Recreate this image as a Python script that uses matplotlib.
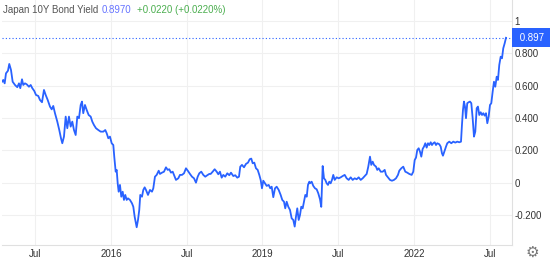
import matplotlib.pyplot as plt
import matplotlib.transforms as mtransforms

# decimal years and yields (%)
years = [
    2013.842, 2013.867, 2013.895, 2013.921, 2013.960, 2013.986, 2014.020, 2014.053, 2014.099, 2014.145,
    2014.178, 2014.204, 2014.238, 2014.263, 2014.297, 2014.331, 2014.376, 2014.410, 2014.442, 2014.481,
    2014.515, 2014.560, 2014.594, 2014.634, 2014.673, 2014.707, 2014.747, 2014.792, 2014.826, 2014.857,
    2014.891, 2014.937, 2014.976, 2015.010, 2015.036, 2015.069, 2015.103, 2015.135, 2015.168, 2015.202,
    2015.234, 2015.267, 2015.301, 2015.333, 2015.366, 2015.400, 2015.426, 2015.451, 2015.485, 2015.519,
    2015.558, 2015.598, 2015.630, 2015.663, 2015.703, 2015.749, 2015.796, 2015.848, 2015.887, 2015.915,
    2015.947, 2015.980, 2016.014, 2016.046, 2016.065, 2016.093, 2016.113, 2016.133, 2016.152, 2016.178,
    2016.204, 2016.232, 2016.257, 2016.283, 2016.311, 2016.337, 2016.376, 2016.416, 2016.442, 2016.469,
    2016.509, 2016.535, 2016.560, 2016.580, 2016.614, 2016.640, 2016.667, 2016.693, 2016.733, 2016.772,
    2016.812, 2016.838, 2016.871, 2016.905, 2016.945, 2016.970, 2017.010, 2017.050, 2017.089, 2017.123,
    2017.154, 2017.188, 2017.222, 2017.248, 2017.287, 2017.333, 2017.366, 2017.406, 2017.446, 2017.485,
    2017.525, 2017.564, 2017.604, 2017.644, 2017.683, 2017.717, 2017.749, 2017.788, 2017.828, 2017.867,
    2017.907, 2017.947, 2017.974, 2018.014, 2018.053, 2018.093, 2018.125, 2018.158, 2018.192, 2018.224,
    2018.263, 2018.303, 2018.343, 2018.376, 2018.422, 2018.461, 2018.501, 2018.535, 2018.560, 2018.594,
    2018.634, 2018.673, 2018.713, 2018.747, 2018.778, 2018.806, 2018.838, 2018.871, 2018.905, 2018.937,
    2018.964, 2018.990, 2019.016, 2019.050, 2019.083, 2019.123, 2019.154, 2019.182, 2019.214, 2019.248,
    2019.281, 2019.321, 2019.360, 2019.392, 2019.426, 2019.451, 2019.479, 2019.511, 2019.545, 2019.578,
    2019.610, 2019.638, 2019.663, 2019.689, 2019.717, 2019.743, 2019.768, 2019.796, 2019.822, 2019.848,
    2019.876, 2019.901, 2019.927, 2019.941, 2019.974, 2020.006, 2020.040, 2020.073, 2020.105, 2020.139,
    2020.164, 2020.192, 2020.218, 2020.244, 2020.271, 2020.297, 2020.323, 2020.350, 2020.376, 2020.402,
    2020.430, 2020.469, 2020.509, 2020.549, 2020.588, 2020.628, 2020.667, 2020.707, 2020.747, 2020.786,
    2020.826, 2020.865, 2020.905, 2020.945, 2020.984, 2021.024, 2021.063, 2021.095, 2021.129, 2021.154,
    2021.182, 2021.208, 2021.248, 2021.273, 2021.301, 2021.341, 2021.380, 2021.420, 2021.446, 2021.485,
    2021.525, 2021.564, 2021.604, 2021.644, 2021.683, 2021.709, 2021.749, 2021.788, 2021.828, 2021.867,
    2021.907, 2021.954, 2021.986, 2022.014, 2022.040, 2022.065, 2022.093, 2022.119, 2022.145, 2022.172,
    2022.198, 2022.224, 2022.251, 2022.277, 2022.303, 2022.331, 2022.356, 2022.382, 2022.410, 2022.436,
    2022.461, 2022.501, 2022.529, 2022.554, 2022.574, 2022.600, 2022.634, 2022.659, 2022.699, 2022.739,
    2022.778, 2022.818, 2022.857, 2022.897, 2022.931, 2022.950, 2022.970, 2022.990, 2023.010, 2023.030,
    2023.055, 2023.083, 2023.109, 2023.135, 2023.162, 2023.188, 2023.214, 2023.242, 2023.267, 2023.293,
    2023.321, 2023.347, 2023.372, 2023.400, 2023.426, 2023.452, 2023.479, 2023.505, 2023.531, 2023.558,
    2023.584, 2023.610, 2023.638, 2023.663, 2023.689, 2023.717, 2023.743, 2023.768, 2023.796, 2023.822,
]
yields = [
    0.625, 0.636, 0.615, 0.677, 0.693, 0.735, 0.698, 0.625, 0.605, 0.591,
    0.615, 0.585, 0.640, 0.605, 0.615, 0.609, 0.594, 0.605, 0.585, 0.568,
    0.543, 0.537, 0.512, 0.498, 0.574, 0.543, 0.512, 0.471, 0.454, 0.475,
    0.430, 0.378, 0.326, 0.275, 0.244, 0.285, 0.409, 0.337, 0.409, 0.347,
    0.378, 0.326, 0.295, 0.409, 0.399, 0.481, 0.502, 0.430, 0.481, 0.450,
    0.419, 0.409, 0.378, 0.357, 0.337, 0.326, 0.316, 0.316, 0.326, 0.306,
    0.275, 0.285, 0.244, 0.233, 0.161, 0.068, 0.079, -0.004, -0.056, -0.014,
    -0.087, -0.056, -0.107, -0.076, -0.107, -0.097, -0.107, -0.128, -0.149, -0.211,
    -0.276, -0.231, -0.169, -0.076, -0.087, -0.045, -0.029, -0.045, -0.076, -0.045,
    -0.056, -0.035, 0.037, 0.048, 0.074, 0.054, 0.062, 0.068, 0.095, 0.079,
    0.083, 0.062, 0.068, 0.048, 0.017, 0.027, 0.048, 0.048, 0.058, 0.089,
    0.072, 0.054, 0.037, 0.027, 0.000, 0.037, 0.058, 0.068, 0.048, 0.037,
    0.046, 0.054, 0.054, 0.068, 0.083, 0.068, 0.052, 0.068, 0.031, 0.048,
    0.037, 0.058, 0.046, 0.062, 0.041, 0.046, 0.031, 0.037, 0.099, 0.110,
    0.095, 0.116, 0.124, 0.145, 0.149, 0.120, 0.124, 0.089, 0.079, 0.048,
    0.017, -0.035, 0.012, -0.004, -0.020, -0.014, -0.035, -0.025, -0.090, -0.035,
    -0.025, -0.045, -0.076, -0.107, -0.118, -0.159, -0.118, -0.149, -0.169, -0.221,
    -0.231, -0.272, -0.211, -0.159, -0.231, -0.200, -0.149, -0.159, -0.118, -0.076,
    -0.087, -0.014, 0.006, -0.004, 0.006, -0.020, -0.035, -0.041, -0.066, -0.103,
    -0.150, 0.103, 0.027, 0.017, -0.004, -0.014, 0.006, -0.004, 0.017, 0.048,
    0.017, 0.033, 0.027, 0.033, 0.041, 0.048, 0.027, 0.017, 0.033, 0.017,
    0.027, 0.021, 0.033, 0.017, 0.027, 0.041, 0.054, 0.099, 0.161, 0.110,
    0.130, 0.110, 0.099, 0.079, 0.089, 0.068, 0.068, 0.079, 0.048, 0.033,
    0.017, 0.012, 0.017, 0.027, 0.048, 0.074, 0.089, 0.099, 0.068, 0.062,
    0.054, 0.048, 0.068, 0.140, 0.155, 0.202, 0.213, 0.192, 0.161, 0.209,
    0.223, 0.244, 0.217, 0.244, 0.233, 0.250, 0.233, 0.244, 0.250, 0.233,
    0.244, 0.238, 0.223, 0.182, 0.167, 0.192, 0.223, 0.244, 0.254, 0.244,
    0.254, 0.248, 0.254, 0.250, 0.254, 0.357, 0.450, 0.502, 0.471, 0.399,
    0.492, 0.498, 0.502, 0.492, 0.399, 0.285, 0.316, 0.461, 0.471, 0.419,
    0.436, 0.419, 0.430, 0.415, 0.430, 0.368, 0.409, 0.481, 0.492, 0.563,
    0.625, 0.594, 0.656, 0.636, 0.729, 0.780, 0.770, 0.832, 0.863, 0.897,
]

x_ticks = [2014.5, 2016.0, 2017.5, 2019.0, 2020.5, 2022.0, 2023.5]
x_labels = ["Jul", "2016", "Jul", "2019", "Jul", "2022", "Jul"]
y_ticks = [-0.2, 0.0, 0.2, 0.4, 0.6, 0.8, 1.0]
y_labels = ["-0.200", "0", "0.200", "0.400", "0.600", "0.800", "1"]

LINE = "#2962ff"
GRID = "#f0f0f0"
plt.rcParams["font.family"] = ["Liberation Sans", "DejaVu Sans"]

fig = plt.figure(figsize=(5.5, 2.63), dpi=100)
ax = fig.add_axes([2 / 550, 18 / 263, 510 / 550, 245 / 263])

ax.plot(years, yields, color=LINE, lw=1.3, solid_joinstyle="round")
last = yields[-1]
ax.axhline(last, color=LINE, lw=0.8, ls=(0, (1, 2)))

ax.set_xlim(2013.842, 2023.941)
ax.set_ylim(-0.386, 1.131)

ax.set_xticks(x_ticks)
ax.set_xticklabels(x_labels)
ax.set_yticks(y_ticks)
ax.set_yticklabels(y_labels)
ax.yaxis.tick_right()
ax.tick_params(length=0, labelsize=7, colors="#333333")
ax.tick_params(axis="x", pad=3)
ax.tick_params(axis="y", pad=2)
ax.grid(True, color=GRID, lw=0.8)
ax.set_axisbelow(True)

for side in ["top", "left"]:
    ax.spines[side].set_visible(False)
ax.spines["bottom"].set_color("#e0e0e0")
ax.spines["right"].set_color("#e0e0e0")
ax.spines["bottom"].set_linewidth(0.8)
ax.spines["right"].set_linewidth(0.8)

# last price tag
trans = mtransforms.blended_transform_factory(ax.transAxes, ax.transData)
ax.annotate(f" {last:.3f} ", xy=(1.0, last), xycoords=trans,
            xytext=(3.3, 0), textcoords="offset points",
            ha="left", va="center", fontsize=7, color="white", annotation_clip=False,
            bbox=dict(boxstyle="square,pad=0.45", fc=LINE, ec="none"))

# header
fig.text(3 / 550, 1 - 10 / 263, "Japan 10Y Bond Yield", fontsize=7, color="#555555", va="center")
fig.text(102 / 550, 1 - 10 / 263, f"{last:.4f}", fontsize=7, color="#6674ff", va="center")
fig.text(137 / 550, 1 - 10 / 263, "+0.0220 (+0.0220%)", fontsize=7, color="#4caf50", va="center")

fig.text(532 / 550, 1 - 252 / 263, "\u2699", fontsize=11, color="#777777",
         ha="center", va="center", family="DejaVu Sans")

fig.savefig("out.png", dpi=100)
